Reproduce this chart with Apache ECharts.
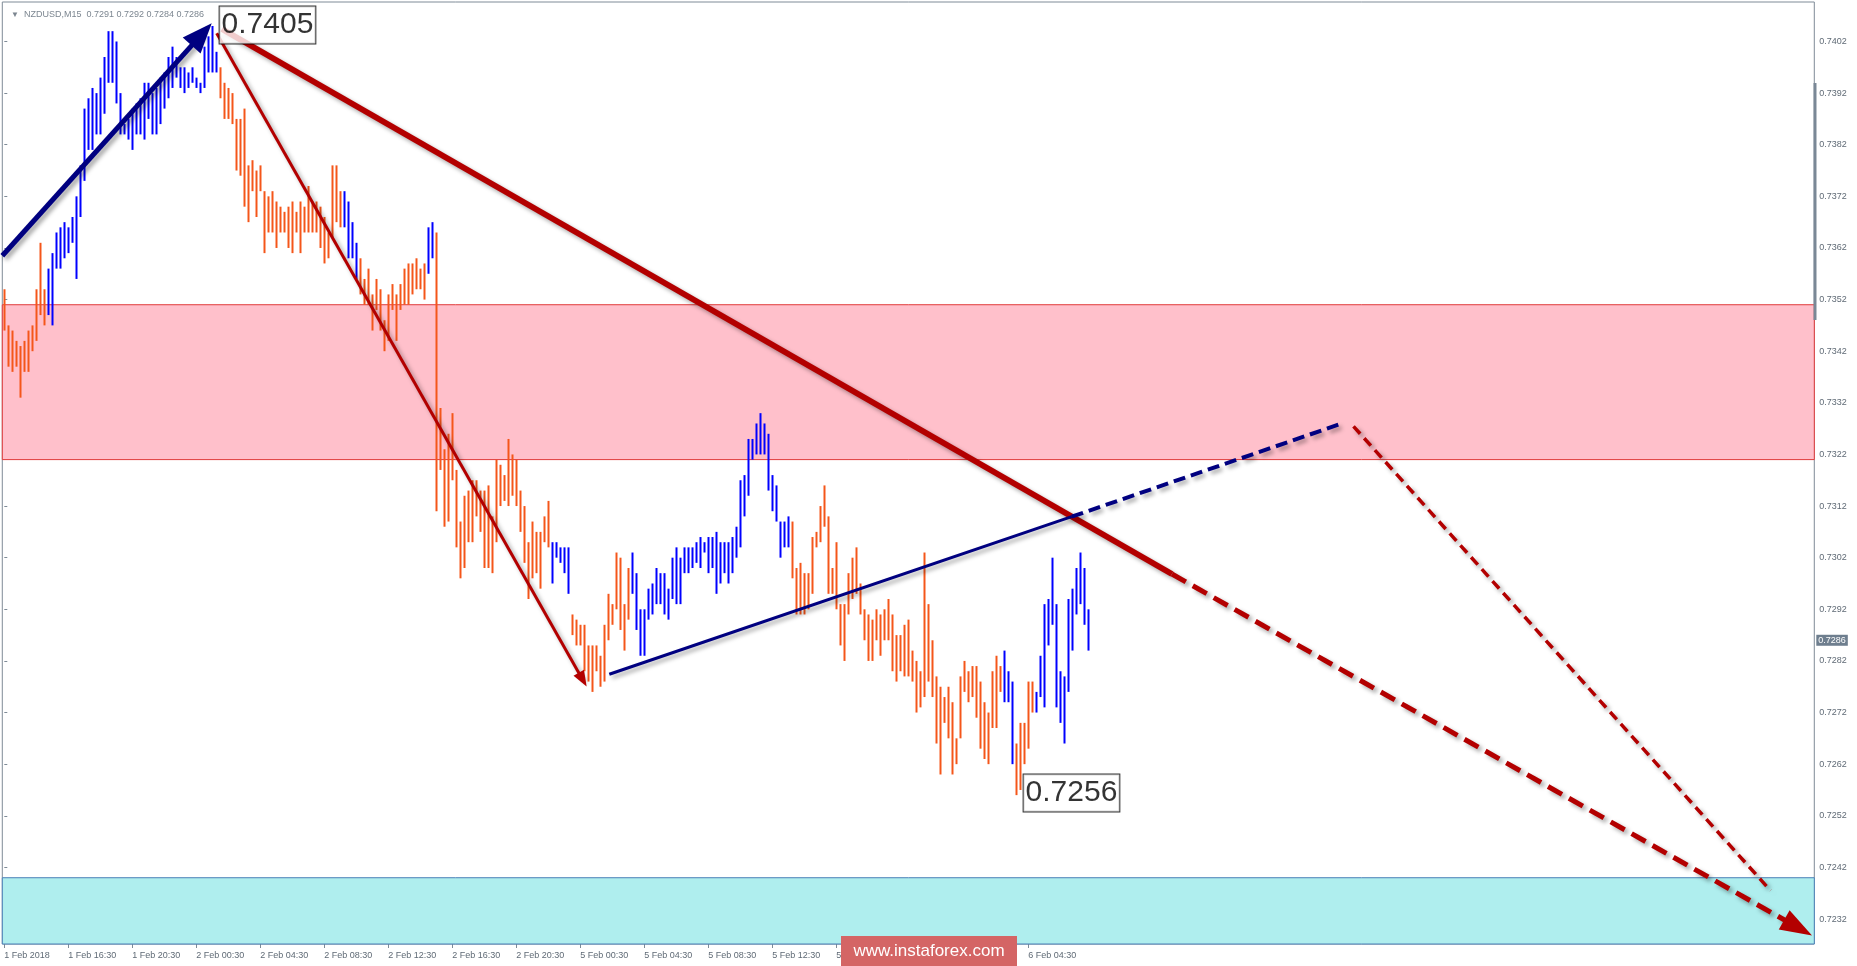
<!DOCTYPE html>
<html><head><meta charset="utf-8">
<script src="https://cdn.jsdelivr.net/npm/echarts@6/dist/echarts.min.js"></script>
<style>html,body{margin:0;padding:0;background:#fff;}#c{width:1857px;height:966px;}</style>
</head><body><div id="c"></div>
<script>
// ---------------- data ----------------
const symbolName = 'NZDUSD,M15';
const lastQuote = [0.7291, 0.7292, 0.7284, 0.7286]; // open high low close of the last bar
const tickLabels = ['1 Feb 2018','1 Feb 16:30','1 Feb 20:30','2 Feb 00:30','2 Feb 04:30','2 Feb 08:30',
  '2 Feb 12:30','2 Feb 16:30','2 Feb 20:30','5 Feb 00:30','5 Feb 04:30','5 Feb 08:30','5 Feb 12:30',
  '5 Feb 16:30','5 Feb 20:30','6 Feb 00:30','6 Feb 04:30'];
const barsPerLabel = 16;
const slotCount = 453; // bar slots visible on the chart (data + empty future space)
const priceTicks = [0.7232,0.7242,0.7252,0.7262,0.7272,0.7282,0.7292,0.7302,0.7312,0.7322,
  0.7332,0.7342,0.7352,0.7362,0.7372,0.7382,0.7392,0.7402];
const priceMin = 0.722716, priceMax = 0.740965;

const highs = [
 0.7354,0.7347,0.7346,0.7344,0.7343,0.7344,0.7346,0.7347,0.7354,0.7363,
 0.7354,0.7358,0.7361,0.7365,0.7366,0.7367,0.7366,0.7368,0.7372,0.7378,
 0.7389,0.7391,0.7393,0.7392,0.7395,0.7399,0.7404,0.7404,0.7402,0.7392,
 0.7386,0.7387,0.7389,0.7390,0.7391,0.7394,0.7394,0.7392,0.7393,0.7395,
 0.7396,0.7399,0.7401,0.7399,0.7397,0.7397,0.7396,0.7397,0.7395,0.7394,
 0.7401,0.7403,0.7405,0.7400,0.7397,0.7394,0.7393,0.7392,0.7387,0.7387,
 0.7389,0.7378,0.7379,0.7377,0.7378,0.7373,0.7372,0.7373,0.7371,0.7370,
 0.7369,0.7370,0.7371,0.7369,0.7371,0.7370,0.7374,0.7371,0.7371,0.7370,
 0.7368,0.7365,0.7378,0.7378,0.7373,0.7373,0.7371,0.7367,0.7363,0.7360,
 0.7356,0.7358,0.7353,0.7356,0.7354,0.7348,0.7353,0.7355,0.7353,0.7355,
 0.7358,0.7359,0.7359,0.7360,0.7358,0.7359,0.7366,0.7367,0.7365,0.7331,
 0.7323,0.7326,0.7330,0.7319,0.7309,0.7314,0.7315,0.7317,0.7317,0.7315,
 0.7315,0.7316,0.7310,0.7321,0.7320,0.7318,0.7325,0.7322,0.7321,0.7315,
 0.7312,0.7305,0.7309,0.7307,0.7307,0.7310,0.7313,0.7305,0.7305,0.7304,
 0.7304,0.7304,0.7291,0.7290,0.7289,0.7289,0.7285,0.7285,0.7285,0.7283,
 0.7289,0.7295,0.7293,0.7303,0.7302,0.7293,0.7300,0.7303,0.7299,0.7292,
 0.7292,0.7296,0.7297,0.7300,0.7299,0.7299,0.7296,0.7302,0.7304,0.7302,
 0.7304,0.7304,0.7304,0.7305,0.7306,0.7305,0.7306,0.7306,0.7307,0.7305,
 0.7305,0.7305,0.7306,0.7308,0.7317,0.7318,0.7325,0.7325,0.7328,0.7330,
 0.7328,0.7326,0.7318,0.7316,0.7309,0.7309,0.7310,0.7309,0.7300,0.7301,
 0.7299,0.7299,0.7306,0.7307,0.7312,0.7316,0.7310,0.7300,0.7305,0.7293,
 0.7293,0.7299,0.7302,0.7304,0.7297,0.7292,0.7291,0.7290,0.7292,0.7291,
 0.7292,0.7294,0.7291,0.7287,0.7287,0.7289,0.7290,0.7284,0.7282,0.7280,
 0.7303,0.7293,0.7286,0.7279,0.7277,0.7275,0.7277,0.7274,0.7267,0.7279,
 0.7282,0.7280,0.7281,0.7281,0.7278,0.7274,0.7272,0.7280,0.7283,0.7281,
 0.7284,0.7280,0.7278,0.7266,0.7270,0.7270,0.7278,0.7278,0.7276,0.7283,
 0.7293,0.7294,0.7302,0.7293,0.7280,0.7279,0.7294,0.7296,0.7300,0.7303,
 0.7300,0.7292];
const lows = [
 0.7346,0.7339,0.7338,0.7339,0.7333,0.7338,0.7338,0.7342,0.7344,0.7349,
 0.7347,0.7349,0.7347,0.7358,0.7358,0.7360,0.7361,0.7363,0.7356,0.7368,
 0.7375,0.7381,0.7381,0.7384,0.7384,0.7388,0.7394,0.7394,0.7390,0.7384,
 0.7384,0.7383,0.7381,0.7384,0.7384,0.7383,0.7387,0.7384,0.7384,0.7386,
 0.7389,0.7391,0.7393,0.7395,0.7393,0.7392,0.7393,0.7394,0.7393,0.7392,
 0.7393,0.7396,0.7396,0.7396,0.7391,0.7387,0.7387,0.7386,0.7377,0.7376,
 0.7370,0.7367,0.7373,0.7368,0.7373,0.7361,0.7365,0.7365,0.7362,0.7365,
 0.7365,0.7362,0.7361,0.7365,0.7361,0.7365,0.7365,0.7365,0.7365,0.7362,
 0.7359,0.7360,0.7364,0.7367,0.7366,0.7366,0.7360,0.7360,0.7356,0.7353,
 0.7351,0.7351,0.7346,0.7350,0.7346,0.7342,0.7344,0.7350,0.7344,0.7350,
 0.7351,0.7351,0.7353,0.7354,0.7354,0.7352,0.7357,0.7360,0.7311,0.7319,
 0.7308,0.7309,0.7317,0.7304,0.7298,0.7300,0.7305,0.7305,0.7310,0.7307,
 0.7300,0.7300,0.7299,0.7305,0.7312,0.7313,0.7312,0.7314,0.7312,0.7307,
 0.7301,0.7294,0.7298,0.7299,0.7296,0.7305,0.7304,0.7297,0.7302,0.7301,
 0.7299,0.7295,0.7287,0.7285,0.7285,0.7280,0.7278,0.7276,0.7280,0.7277,
 0.7278,0.7286,0.7289,0.7292,0.7288,0.7284,0.7290,0.7295,0.7288,0.7283,
 0.7283,0.7290,0.7291,0.7293,0.7293,0.7291,0.7290,0.7294,0.7293,0.7293,
 0.7299,0.7299,0.7300,0.7301,0.7300,0.7303,0.7299,0.7300,0.7295,0.7297,
 0.7299,0.7297,0.7299,0.7302,0.7304,0.7310,0.7314,0.7321,0.7322,0.7322,
 0.7322,0.7315,0.7311,0.7309,0.7302,0.7304,0.7304,0.7298,0.7291,0.7291,
 0.7291,0.7292,0.7295,0.7304,0.7305,0.7308,0.7295,0.7295,0.7292,0.7285,
 0.7282,0.7291,0.7294,0.7295,0.7291,0.7286,0.7282,0.7282,0.7286,0.7283,
 0.7286,0.7286,0.7280,0.7278,0.7280,0.7279,0.7279,0.7278,0.7272,0.7273,
 0.7275,0.7278,0.7275,0.7266,0.7260,0.7270,0.7267,0.7260,0.7262,0.7267,
 0.7276,0.7274,0.7275,0.7271,0.7265,0.7263,0.7262,0.7269,0.7269,0.7276,
 0.7274,0.7274,0.7262,0.7256,0.7257,0.7262,0.7265,0.7272,0.7272,0.7275,
 0.7273,0.7285,0.7289,0.7273,0.7270,0.7266,0.7276,0.7284,0.7291,0.7293,
 0.7289,0.7284];
// bar colour runs, in order: 'B' = blue bar, 'O' = orange bar, with bar counts
const colorRuns = [['O',11],['B',43],['O',31],['B',4],['O',17],['B',2],['O',29],['B',5],
  ['O',15],['B',40],['O',53],['B',3],['O',5],['B',14]];

// zones [upper price, lower price]
const resistanceZone = [0.7351, 0.7321];
const supportZone = [0.7240, priceMin];

// drawn analysis objects, in (bar index, price)
const trendLines = [
  {key:'upArrow',   from:[-0.5, 0.73605],   to:[49.35, 0.740338]},
  {key:'mainDown',  from:[54.4, 0.740442],  to:[291.9, 0.729884]},
  {key:'mainDash',  from:[291.9, 0.729884], to:[448.45, 0.723032]},
  {key:'downArrow', from:[53.1, 0.740359],  to:[144.6, 0.727837]},
  {key:'upLine',    from:[151.25, 0.727941],to:[266.85, 0.730994]},
  {key:'upDash',    from:[266.85, 0.730994],to:[334.4, 0.7328]},
  {key:'lastDash',  from:[337.3, 0.732745], to:[441.55, 0.723751]}
];
const priceNotes = [
  {at:[53.7, 0.74052], text:'0.7405'},
  {at:[254.7, 0.725642], text:'0.7256'}
];
const watermarkText = 'www.instaforex.com';

// ---------------- styles ----------------
const BLUE = '#0000ff', ORANGE = '#f4561a', NAVY = '#000080', DARKRED = '#b30000';
const AXIS_TXT = '#5f6a75', FRAME = '#7f8b97';
const shadow = {shadowColor:'rgba(0,0,0,0.35)', shadowBlur:4, shadowOffsetX:3, shadowOffsetY:3};
const lineStyles = {
  upArrow:  {color:NAVY, width:5, symbol:['none','triangle'], size:[0,[24,30]]},
  mainDown: {color:DARKRED, width:6},
  mainDash: {color:DARKRED, width:5, type:[16,8], symbol:['none','triangle'], size:[0,[22,32]]},
  downArrow:{color:DARKRED, width:3, symbol:['none','triangle'], size:[0,[12,16]]},
  upLine:   {color:NAVY, width:3},
  upDash:   {color:NAVY, width:4, type:[12,6]},
  lastDash: {color:DARKRED, width:3.5, type:[10,6]}
};
const FONT = '"Liberation Sans", Arial, sans-serif';

// ---------------- build ----------------
const barColors = [];
colorRuns.forEach(([c, n]) => { for (let k = 0; k < n; k++) barColors.push(c); });
const slots = [];
for (let i = 0; i < slotCount; i++) slots.push(String(i));
const candleData = highs.map((h, i) => {
  const l = lows[i];
  return barColors[i] === 'B' ? [l, h, l, h] : [h, l, l, h];
});
const showTick = (index) => index % barsPerLabel === 0 && index / barsPerLabel < tickLabels.length;

const lineSeries = trendLines.map(t => {
  const s = lineStyles[t.key];
  return {
    type:'lines', coordinateSystem:'cartesian2d', xAxisIndex:1, yAxisIndex:0, z:5,
    symbol: s.symbol || 'none', symbolSize: s.size || 0,
    lineStyle: Object.assign({color:s.color, width:s.width, type:s.type || 'solid', opacity:1}, shadow),
    data:[{coords:[t.from, t.to]}], silent:true
  };
});

const chart = echarts.init(document.getElementById('c'), null, {renderer:'canvas'});
chart.setOption({
  animation:false,
  backgroundColor:'#ffffff',
  title:{
    left:6, top:5,
    text:'{a|▼}  ' + symbolName + '  ' + lastQuote.map(v => v.toFixed(4)).join(' '),
    textStyle:{fontSize:9, color:'#7c8690', fontWeight:'normal', fontFamily:FONT,
      rich:{a:{fontSize:8, color:'#7c8690'}}}
  },
  grid:{left:2.3, right:42.7, top:2, bottom:22, show:true, borderColor:FRAME, borderWidth:1, backgroundColor:'#fff'},
  xAxis:[{
    type:'category', data:slots, boundaryGap:true,
    axisLine:{show:false},
    axisTick:{show:true, alignWithLabel:true, interval:showTick, length:4, lineStyle:{color:FRAME}},
    axisLabel:{interval:showTick, align:'left', margin:7, fontSize:9, color:AXIS_TXT, fontFamily:FONT,
      formatter:(v) => { const i = Number(v); return tickLabels[i / barsPerLabel] || ''; }},
    splitLine:{show:false}
  },{
    type:'value', min:-0.5, max:slotCount - 0.5, show:false
  }],
  yAxis:[{
    type:'value', position:'right', min:priceMin, max:priceMax, scale:true,
    axisLine:{show:false}, splitLine:{show:false},
    axisTick:{show:true, customValues:priceTicks, length:3, lineStyle:{color:FRAME}},
    axisLabel:{customValues:priceTicks, formatter:v => v.toFixed(4), fontSize:9, color:AXIS_TXT, margin:5, fontFamily:FONT}
  },{
    type:'value', position:'right', min:priceMin, max:priceMax, scale:true,
    axisLine:{show:false}, splitLine:{show:false}, axisTick:{show:false},
    axisLabel:{customValues:[lastQuote[3]], formatter:v => v.toFixed(4), fontSize:9, color:'#ffffff',
      backgroundColor:'#6e7e8e', padding:[1,2,1,2], margin:2, fontFamily:FONT}
  }],
  series:[{
    type:'candlestick', xAxisIndex:0, yAxisIndex:0, z:3, barWidth:2.4,
    itemStyle:{color:BLUE, color0:ORANGE, borderColor:BLUE, borderColor0:ORANGE, borderWidth:0},
    data:candleData,
    markArea:{silent:true, data:[
      [{yAxis:resistanceZone[0], itemStyle:{color:'#ffc0cb', borderColor:'#e03a3a', borderWidth:1}}, {yAxis:resistanceZone[1]}],
      [{yAxis:supportZone[0], itemStyle:{color:'#afeeee', borderColor:'#4a80b8', borderWidth:1}}, {yAxis:supportZone[1]}]
    ]}
  }].concat(lineSeries).concat([{
    type:'scatter', xAxisIndex:1, yAxisIndex:0, z:6, symbolSize:1, silent:true,
    itemStyle:{color:'rgba(0,0,0,0)'},
    label:{show:true, position:'right', distance:0, formatter:p => p.data.name,
      fontSize:30, fontFamily:FONT, color:'#000', backgroundColor:'#fff', borderColor:'#000', borderWidth:1,
      padding:[3,2,1,2], lineHeight:33},
    data:priceNotes.map(n => ({value:n.at, name:n.text}))
  }]),
  graphic:[
    {type:'rect', x:1813.5, y:83, shape:{x:0, y:0, width:3, height:237}, style:{fill:'#7a8896'}, z:10, silent:true},
    {type:'rect', x:841, y:936, shape:{x:0, y:0, width:176, height:30}, style:{fill:'#d46565'}, z:20, silent:true},
    {type:'text', x:929, y:951, z:21, silent:true,
      style:{text:watermarkText, fill:'#ffffff', font:'17px "Liberation Sans", Arial, sans-serif',
        align:'center', verticalAlign:'middle', textAlign:'center', textVerticalAlign:'middle'}}
  ]
});
</script></body></html>
